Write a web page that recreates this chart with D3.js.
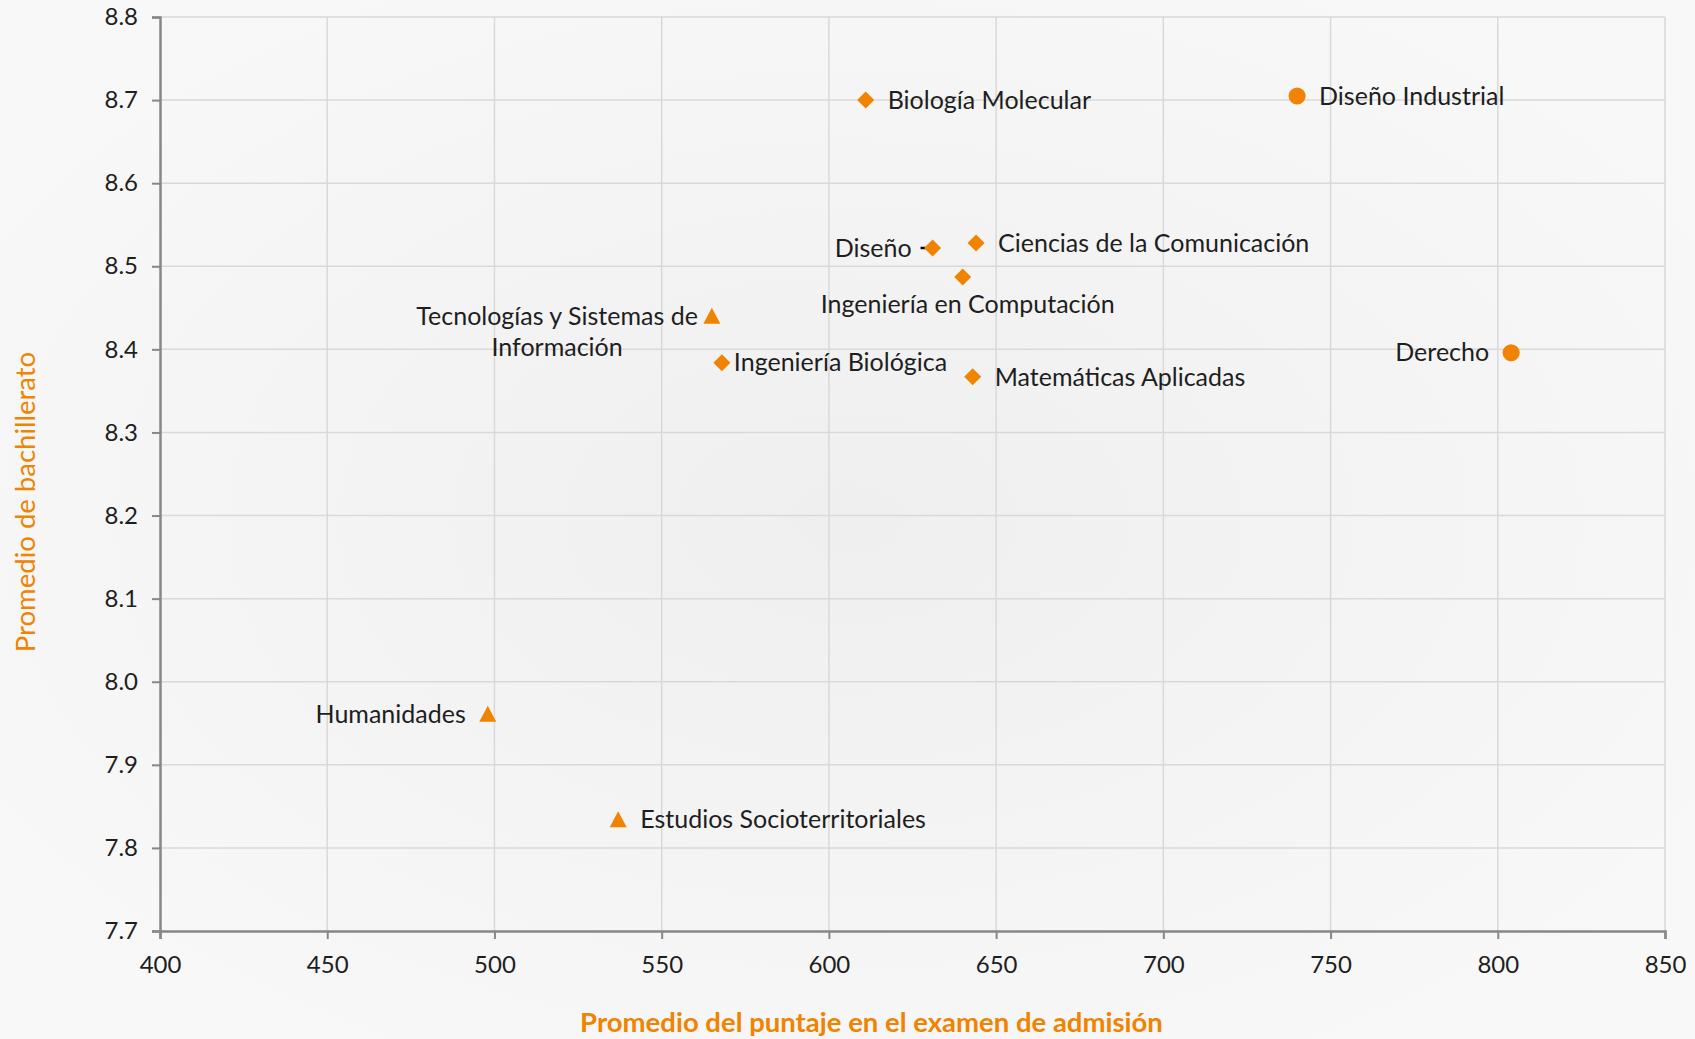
<!DOCTYPE html>
<html>
<head>
<meta charset="utf-8">
<script src="https://cdn.jsdelivr.net/npm/d3@7"></script>
<style>
  body { margin: 0; background: #f5f5f5; }
  svg { display: block; font-family: Lato, "Open Sans", sans-serif; }
</style>
</head>
<body>
<script>
// carreras y sus promedios
var programs = ["Biología Molecular", "Diseño Industrial", "Ciencias de la Comunicación", "Diseño",
  "Ingeniería en Computación", "Tecnologías y Sistemas de\nInformación", "Ingeniería Biológica",
  "Matemáticas Aplicadas", "Derecho", "Humanidades", "Estudios Socioterritoriales"];
var admision = [611, 740, 644, 631, 640, 565, 568, 643, 804, 498, 537];
var bachillerato = [8.70, 8.705, 8.528, 8.522, 8.487, 8.440, 8.384, 8.367, 8.396, 7.961, 7.834];
var markerType = ["diamond", "circle", "diamond", "diamond", "diamond", "triangle", "diamond",
  "diamond", "circle", "triangle", "triangle"];
var labelSide = ["right", "right", "right", "leftLeader", "below", "leftNear", "rightNear",
  "right", "left", "left", "right"];

var xTicks = [400, 450, 500, 550, 600, 650, 700, 750, 800, 850];
var yTicks = [7.7, 7.8, 7.9, 8.0, 8.1, 8.2, 8.3, 8.4, 8.5, 8.6, 8.7, 8.8];

var width = 1695, height = 1039;
var margin = {top: 17, right: 30, bottom: 108, left: 160};
var orange = "#f08300";

var svg = d3.select("body").append("svg")
  .attr("width", width)
  .attr("height", height);

var defs = svg.append("defs");
var grad = defs.append("radialGradient").attr("id", "bg")
  .attr("cx", "50%").attr("cy", "50%").attr("r", "60%");
grad.append("stop").attr("offset", "0%").attr("stop-color", "#efefef");
grad.append("stop").attr("offset", "100%").attr("stop-color", "#f8f8f8");

svg.append("rect").attr("width", width).attr("height", height).attr("fill", "url(#bg)");

var x = d3.scaleLinear().domain([400, 850]).range([margin.left, width - margin.right]);
var y = d3.scaleLinear().domain([7.7, 8.8]).range([height - margin.bottom, margin.top]);

// gridlines
svg.append("g").selectAll("line.v")
  .data(xTicks.slice(1))
  .enter().append("line")
  .attr("x1", function (d) { return x(d); })
  .attr("x2", function (d) { return x(d); })
  .attr("y1", y(7.7)).attr("y2", y(8.8))
  .style("stroke", "#d9d9d9").style("stroke-width", 1.5);

svg.append("g").selectAll("line.h")
  .data(yTicks.slice(1))
  .enter().append("line")
  .attr("x1", x(400)).attr("x2", x(850))
  .attr("y1", function (d) { return y(d); })
  .attr("y2", function (d) { return y(d); })
  .style("stroke", "#d9d9d9").style("stroke-width", 1.5);

// axes
var xAxis = svg.append("g")
  .attr("transform", "translate(0," + y(7.7) + ")")
  .call(d3.axisBottom(x).tickValues(xTicks).tickSize(8).tickPadding(17).tickFormat(d3.format("d")));

var yAxis = svg.append("g")
  .attr("transform", "translate(" + x(400) + ",0)")
  .call(d3.axisLeft(y).tickValues(yTicks).tickSize(8).tickPadding(14).tickFormat(d3.format(".1f")));

[xAxis, yAxis].forEach(function (a) {
  a.select(".domain").style("stroke", "#878787").style("stroke-width", 2.5);
  a.selectAll(".tick line").style("stroke", "#878787").style("stroke-width", 2);
  a.selectAll(".tick text").style("font-size", "24px").style("fill", "#1e1e1e")
    .style("font-family", "Lato, sans-serif");
});
xAxis.selectAll(".tick text").attr("dy", "0.71em");

// axis titles
svg.append("text")
  .attr("x", (x(400) + x(850)) / 2 - 41)
  .attr("y", 1032)
  .style("text-anchor", "middle")
  .style("font-size", "27.5px")
  .style("font-weight", "bold")
  .style("fill", orange)
  .text("Promedio del puntaje en el examen de admisión");

svg.append("text")
  .attr("transform", "translate(35," + ((y(7.7) + y(8.8)) / 2 + 28) + ") rotate(-90)")
  .style("text-anchor", "middle")
  .style("font-size", "27.5px")
  .style("fill", orange)
  .text("Promedio de bachillerato");

// markers
var data = programs.map(function (p, i) {
  return {name: p, x: admision[i], y: bachillerato[i], type: markerType[i], side: labelSide[i]};
});

function markerPath(t) {
  if (t == "circle") return d3.symbol(d3.symbolCircle, 230)();
  if (t == "diamond") return "M0,-8.5L8.5,0L0,8.5L-8.5,0Z";
  return "M0,-8.5L8.5,7.5L-8.5,7.5Z";
}

var pts = svg.append("g").selectAll("g.pt")
  .data(data)
  .enter().append("g")
  .attr("class", "pt")
  .attr("transform", function (d) { return "translate(" + x(d.x) + "," + y(d.y) + ")"; });

pts.filter(function (d) { return d.side == "leftLeader"; })
  .append("line")
  .attr("x1", -12).attr("x2", 0).attr("y1", 0).attr("y2", 0)
  .style("stroke", "black").style("stroke-width", 2.5);

pts.append("path")
  .attr("d", function (d) { return markerPath(d.type); })
  .style("fill", orange);

// labels
var offsets = {right: 22, rightNear: 12, left: 22, leftLeader: 21, leftNear: 14};

pts.each(function (d) {
  var g = d3.select(this);
  var lines = d.name.split("\n");
  var t = g.append("text")
    .style("font-size", "25px")
    .style("fill", "#1e1e1e");
  lines.forEach(function (l, i) {
    t.append("tspan").attr("x", 0).attr("dy", i == 0 ? "0.35em" : "1.25em").text(l);
  });
  if (d.side == "below") {
    t.style("text-anchor", "middle").attr("transform", "translate(5,27)");
  } else if (d.side.indexOf("right") == 0) {
    t.style("text-anchor", "start").attr("transform", "translate(" + offsets[d.side] + ",0)");
  } else if (lines.length > 1) {
    var w = t.node().getBBox().width;
    t.style("text-anchor", "middle").attr("transform", "translate(" + (-offsets[d.side] - w / 2) + ",0)");
  } else {
    t.style("text-anchor", "end").attr("transform", "translate(" + (-offsets[d.side]) + ",0)");
  }
});
</script>
</body>
</html>
